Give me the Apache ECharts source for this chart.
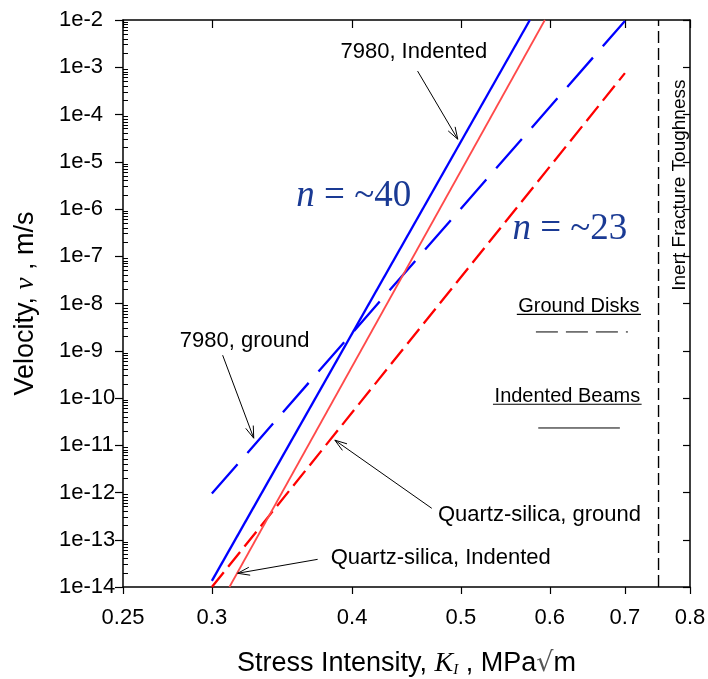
<!DOCTYPE html>
<html>
<head>
<meta charset="utf-8">
<script src="https://cdn.jsdelivr.net/npm/echarts@6/dist/echarts.min.js"></script>
<style>
  html, body { margin: 0; padding: 0; background: #fff; }
  #chart { width: 708px; height: 679px; }
</style>
</head>
<body>
<div id="chart"></div>
<script>
// stress intensity K (MPa√m) / crack velocity v (m/s), line end points
const ind7980K = [0.3, 0.576];
const ind7980V = [1.35e-14, 1e-2];
const indQuartzK = [0.311, 0.594];
const indQuartzV = [1e-14, 1e-2];
const gnd7980K = [0.3, 0.7];
const gnd7980V = [9.5e-13, 9.5e-3];
const gndQuartzK = [0.3, 0.7];
const gndQuartzV = [1e-14, 7.5e-4];
const toughK = [0.75, 0.75];
const toughV = [1e-14, 1e-2];

const xTicks = [0.25, 0.3, 0.4, 0.5, 0.6, 0.7, 0.8];
const yExp = [-14, -2]; // 1e-14 .. 1e-2

const L = Math.log10;
const pairs = (ks, vs) => ks.map((k, i) => [L(k), L(vs[i])]);

// minor ticks 2..9 inside each decade
let minorTicks = [];
for (let e = yExp[0]; e < yExp[1]; e++) {
  for (let m = 2; m <= 9; m++) minorTicks.push(e + L(m));
}

// annotations (K, v)
const notes = [
  { text: '7980, Indented', k: 0.454, v: 2.1e-3, size: 22 },
  { text: '7980, ground', k: 0.3209, v: 1.59e-9, size: 22 },
  { text: 'Quartz-silica, ground', k: 0.5874, v: 3.29e-13, size: 22 },
  { text: 'Quartz-silica, Indented', k: 0.4798, v: 4.05e-14, size: 22 },
  { text: 'Ground Disks', k: 0.6369, v: 8.77e-9, size: 20 },
  { text: 'Indented Beams', k: 0.6221, v: 1.09e-10, size: 20 }
];
const slopes = [
  { n: '40', k: 0.4014, v: 1.87e-6 },
  { n: '23', k: 0.6253, v: 3.75e-7 }
];
const arrows = [
  [0.4575, 8.3e-4, 0.4968, 3.0e-5],
  [0.3067, 8.05e-10, 0.3269, 1.41e-11],
  [0.4710, 4.63e-13, 0.3861, 1.28e-11],
  [0.3727, 3.85e-14, 0.3163, 1.95e-14]
];

var chart = echarts.init(document.getElementById('chart'));

function seg(k0, k1, v, style) {
  return {
    type: 'line', silent: true, showSymbol: false, symbol: 'none',
    data: pairs([k0, k1], [v, v]),
    lineStyle: style
  };
}

// thin line with an open arrow head at the second point
function renderArrow(params, api) {
  const a = api.coord([api.value(0), api.value(1)]);
  const b = api.coord([api.value(2), api.value(3)]);
  const dx = b[0] - a[0], dy = b[1] - a[1];
  const len = Math.sqrt(dx * dx + dy * dy);
  const ux = dx / len, uy = dy / len;
  const hl = 12, hw = 4;
  const l = [b[0] - ux * hl - uy * hw, b[1] - uy * hl + ux * hw];
  const r = [b[0] - ux * hl + uy * hw, b[1] - uy * hl - ux * hw];
  return {
    type: 'group',
    children: [
      { type: 'line', shape: { x1: a[0], y1: a[1], x2: b[0], y2: b[1] }, style: { stroke: '#000', lineWidth: 1 } },
      { type: 'polyline', shape: { points: [l, b, r] }, style: { stroke: '#000', fill: null, lineWidth: 1 } }
    ]
  };
}

const plain = { opacity: 1, textBorderWidth: 0, textBorderColor: 'transparent', textShadowBlur: 0 };

var option = {
  animation: false,
  textStyle: { fontFamily: 'Liberation Sans' },
  grid: { left: 123, top: 20, right: 18, bottom: 92, containLabel: false, outerBoundsMode: 'none' },
  xAxis: [
    {
      type: 'value', position: 'bottom',
      min: L(xTicks[0]), max: L(xTicks[xTicks.length - 1]),
      axisLine: { lineStyle: { color: '#000', width: 1.5 } },
      axisTick: { customValues: xTicks.map(L), inside: false, length: 7, lineStyle: { color: '#000', width: 1.2 } },
      axisLabel: {
        customValues: xTicks.map(L), margin: 20, fontSize: 22, color: '#000',
        formatter: v => String(Math.round(Math.pow(10, v) * 100) / 100)
      },
      splitLine: { show: false },
      name: '{t|Stress Intensity, }{k|K}{s|I}{t| , MPa}{r|√}{t|m}',
      nameLocation: 'middle', nameGap: 63,
      nameTextStyle: {
        rich: {
          t: { fontSize: 27, fontFamily: 'Liberation Sans', color: '#000' },
          k: { fontSize: 28, fontFamily: 'Liberation Serif', fontStyle: 'italic', color: '#000' },
          s: { fontSize: 15, fontFamily: 'Liberation Serif', fontStyle: 'italic', color: '#000', verticalAlign: 'bottom', padding: [12, 0, 0, 0] },
          r: { fontSize: 27, fontFamily: 'DejaVu Serif', color: '#555' }
        }
      }
    },
    {
      type: 'value', position: 'top',
      min: L(xTicks[0]), max: L(xTicks[xTicks.length - 1]),
      axisLine: { lineStyle: { color: '#000', width: 1.5 } },
      axisTick: { customValues: xTicks.map(L), inside: true, length: 8, lineStyle: { color: '#000', width: 1.2 } },
      axisLabel: { show: false },
      splitLine: { show: false }
    }
  ],
  yAxis: [
    {
      type: 'value', position: 'left', min: yExp[0], max: yExp[1], interval: 1,
      axisLine: { lineStyle: { color: '#000', width: 1.5 } },
      axisTick: { inside: false, length: 8, lineStyle: { color: '#000', width: 1.2 } },
      axisLabel: { margin: 64, align: 'left', fontSize: 22, color: '#000', formatter: v => '1e' + v },
      splitLine: { show: false },
      name: '{t|Velocity, }{nu|ν}{t| , m/s}',
      nameLocation: 'middle', nameGap: 84, nameRotate: 90,
      nameTextStyle: {
        rich: {
          t: { fontSize: 27, fontFamily: 'Liberation Sans', color: '#000' },
          nu: { fontSize: 27, fontFamily: 'Liberation Serif', fontStyle: 'italic', color: '#000' }
        }
      }
    },
    {
      type: 'value', position: 'left', min: yExp[0], max: yExp[1],
      axisLine: { show: false },
      axisTick: { customValues: minorTicks, inside: true, length: 5, lineStyle: { color: '#000', width: 1 } },
      axisLabel: { show: false },
      splitLine: { show: false }
    },
    {
      type: 'value', position: 'right', min: yExp[0], max: yExp[1], interval: 1,
      axisLine: { lineStyle: { color: '#000', width: 1.5 } },
      axisTick: { inside: true, length: 7, lineStyle: { color: '#000', width: 1.2 } },
      axisLabel: { show: false },
      splitLine: { show: false }
    }
  ],
  series: [
    {
      name: '7980, ground', type: 'line', showSymbol: false, symbol: 'none',
      data: pairs(gnd7980K, gnd7980V),
      lineStyle: { color: '#0000ff', width: 2.3, type: [39, 15] }
    },
    {
      name: 'Quartz-silica, ground', type: 'line', showSymbol: false, symbol: 'none',
      data: pairs(gndQuartzK, gndQuartzV),
      lineStyle: { color: '#ff0000', width: 2.3, type: [19, 7] }
    },
    {
      name: '7980, Indented', type: 'line', showSymbol: false, symbol: 'none',
      data: pairs(ind7980K, ind7980V),
      lineStyle: { color: '#0000ff', width: 2.3 }
    },
    {
      name: 'Quartz-silica, Indented', type: 'line', showSymbol: false, symbol: 'none',
      data: pairs(indQuartzK, indQuartzV),
      lineStyle: { color: '#ff4a4a', width: 1.8 }
    },
    {
      name: 'Inert Fracture Toughness', type: 'line', showSymbol: false, symbol: 'none',
      data: pairs(toughK, toughV),
      lineStyle: { color: '#000', width: 1.4, type: [12, 5] }
    },
    {
      type: 'custom', silent: true, z: 8,
      renderItem: renderArrow,
      encode: { x: [0, 2], y: [1, 3] },
      data: arrows.map(a => [L(a[0]), L(a[1]), L(a[2]), L(a[3])])
    },
    // legend samples and underlines
    seg(0.5832, 0.7043, 2.5e-9, { color: '#000', width: 1, type: [22, 8] }),
    seg(0.5860, 0.6928, 2.32e-11, { color: '#000', width: 1 }),
    seg(0.5608, 0.7234, 5.86e-9, { color: '#000', width: 1.2 }),
    seg(0.5340, 0.7244, 7.38e-11, { color: '#000', width: 1.2 }),
    {
      type: 'scatter', silent: true, symbolSize: 0, z: 10,
      itemStyle: { opacity: 1 },
      data: notes.map(d => ({
        value: [L(d.k), L(d.v)],
        label: Object.assign({ show: true, position: 'inside', formatter: d.text, fontSize: d.size, color: '#000', fontFamily: 'Liberation Sans' }, plain)
      })).concat(slopes.map(d => ({
        value: [L(d.k), L(d.v)],
        label: Object.assign({
          show: true, position: 'inside', formatter: '{i|n}{r| = ~' + d.n + '}',
          rich: {
            i: { fontSize: 37, fontFamily: 'Liberation Serif', fontStyle: 'italic', color: '#1a3a94' },
            r: { fontSize: 37, fontFamily: 'Liberation Serif', color: '#1a3a94' }
          }
        }, plain)
      }))).concat([{
        value: [L(0.7838), L(3.2e-6)],
        label: Object.assign({ show: true, position: 'inside', rotate: 90, formatter: 'Inert Fracture Toughness', fontSize: 19, color: '#000', fontFamily: 'Liberation Sans' }, plain)
      }])
    }
  ]
};

chart.setOption(option);
</script>
</body>
</html>
